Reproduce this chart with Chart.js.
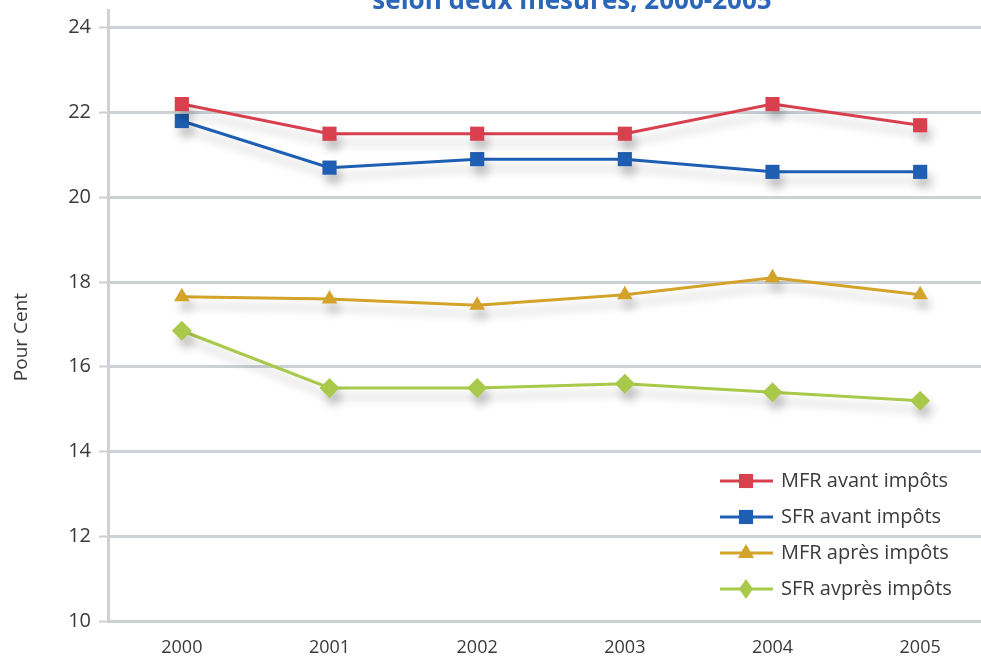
<!DOCTYPE html>
<html>
<head>
<meta charset="utf-8">
<script src="https://cdn.jsdelivr.net/npm/chart.js@4.4.1/dist/chart.umd.min.js"></script>
<style>
  html, body { margin: 0; padding: 0; background: #fff; overflow: hidden; }
  #wrap { width: 1004px; height: 662px; position: relative; }
</style>
</head>
<body>
<div id="wrap"><canvas id="lineChart"></canvas></div>
<script>
var years = ['2000', '2001', '2002', '2003', '2004', '2005'];
var mfrAvant = [22.2, 21.5, 21.5, 21.5, 22.2, 21.7];
var sfrAvant = [21.8, 20.7, 20.9, 20.9, 20.6, 20.6];
var mfrApres = [17.65, 17.6, 17.45, 17.7, 18.1, 17.7];
var sfrApres = [16.85, 15.5, 15.5, 15.6, 15.4, 15.2];
var seriesLabels = ['MFR avant impôts', 'SFR avant impôts', 'MFR après impôts', 'SFR avpr\u00e8s impôts'];
var titleText = 'selon deux mesures, 2000-2005';
var yTitle = 'Pour Cent';

var fontFam = '"Open Sans", Lato, sans-serif';
var gridCol = '#cdd1d5';
var textCol = '#3a3a3a';

// soft drop shadow under the lines
var shadowPlugin = {
    id: 'shadows',
    beforeDatasetsDraw: function (chart) {
        var c = chart.ctx;
        c.save();
        c.shadowColor = 'rgba(0,0,0,0.22)';
        c.shadowBlur = 10;
        c.shadowOffsetX = 4;
        c.shadowOffsetY = 9;
    },
    afterDatasetsDraw: function (chart) {
        chart.ctx.restore();
    }
};

function marker(c, style, x, y, r, color) {
    c.fillStyle = color;
    c.beginPath();
    if (style === 'rect') {
        var s = r * Math.SQRT1_2;
        c.rect(x - s, y - s, 2 * s, 2 * s);
    } else if (style === 'triangle') {
        c.moveTo(x, y - r);
        c.lineTo(x + r * 0.9, y + r * 0.55);
        c.lineTo(x - r * 0.9, y + r * 0.55);
        c.closePath();
    } else {
        c.moveTo(x, y - r);
        c.lineTo(x + r * 0.7, y);
        c.lineTo(x, y + r);
        c.lineTo(x - r * 0.7, y);
        c.closePath();
    }
    c.fill();
}

// title (clipped at the top), y title, legend inside the plot
var decoPlugin = {
    id: 'deco',
    afterDraw: function (chart) {
        var c = chart.ctx;
        c.save();
        c.font = 'bold 26px ' + fontFam;
        c.fillStyle = '#2b66b8';
        c.textAlign = 'center';
        c.textBaseline = 'alphabetic';
        c.fillText(titleText, 572, 9);

        c.save();
        c.translate(22, 337);
        c.rotate(-Math.PI / 2);
        c.font = '19px ' + fontFam;
        c.fillStyle = textCol;
        c.textBaseline = 'middle';
        c.fillText(yTitle, 0, 0);
        c.restore();

        chart.data.datasets.forEach(function (ds, i) {
            var y = 481 + i * 36;
            c.strokeStyle = ds.borderColor;
            c.lineWidth = 3;
            c.beginPath();
            c.moveTo(720, y);
            c.lineTo(773, y);
            c.stroke();
            marker(c, ds.pointStyle, 746, y, ds.pointRadius, ds.borderColor);
            c.fillStyle = textCol;
            c.font = '20px ' + fontFam;
            c.textAlign = 'left';
            c.textBaseline = 'middle';
            c.fillText(ds.label, 781, y);
        });
        c.restore();
    }
};

function makeSet(label, values, color, style, radius) {
    return {
        label: label,
        data: values,
        borderColor: color,
        backgroundColor: color,
        borderWidth: 3,
        pointStyle: style,
        pointRadius: radius,
        pointHoverRadius: radius,
        pointBorderWidth: 0,
        tension: 0,
        fill: false
    };
}

var ctx = document.getElementById('lineChart').getContext('2d');
var myLineChart = new Chart(ctx, {
    type: 'line',
    data: {
        labels: years,
        datasets: [
            makeSet(seriesLabels[0], mfrAvant, '#d8404e', 'rect', 10),
            makeSet(seriesLabels[1], sfrAvant, '#1e5fb3', 'rect', 10),
            makeSet(seriesLabels[2], mfrApres, '#d3a32a', 'triangle', 9),
            makeSet(seriesLabels[3], sfrApres, '#a9c94a', 'rectRot', 10)
        ]
    },
    options: {
        responsive: true,
        maintainAspectRatio: false,
        animation: false,
        layout: { padding: { top: 0, left: 0, right: 5, bottom: 0 } },
        plugins: {
            legend: { display: false },
            tooltip: { enabled: false }
        },
        scales: {
            x: {
                offset: true,
                grid: { display: false, drawTicks: false },
                border: { display: false },
                ticks: {
                    color: textCol,
                    font: { family: fontFam, size: 18 },
                    padding: 16
                },
                afterFit: function (scale) { scale.height = 41; }
            },
            y: {
                min: 10,
                max: 24.42,
                grid: {
                    color: gridCol,
                    lineWidth: 3,
                    tickLength: 9,
                    tickColor: gridCol,
                    tickWidth: 2
                },
                border: { color: gridCol, width: 3 },
                ticks: {
                    stepSize: 2,
                    includeBounds: false,
                    color: textCol,
                    font: { family: fontFam, size: 20 },
                    padding: 8
                },
                afterFit: function (scale) {
                    scale.width = 108;
                    scale.paddingTop = 0;
                    scale.paddingBottom = 0;
                }
            }
        }
    },
    plugins: [shadowPlugin, decoPlugin]
});
</script>
</body>
</html>
